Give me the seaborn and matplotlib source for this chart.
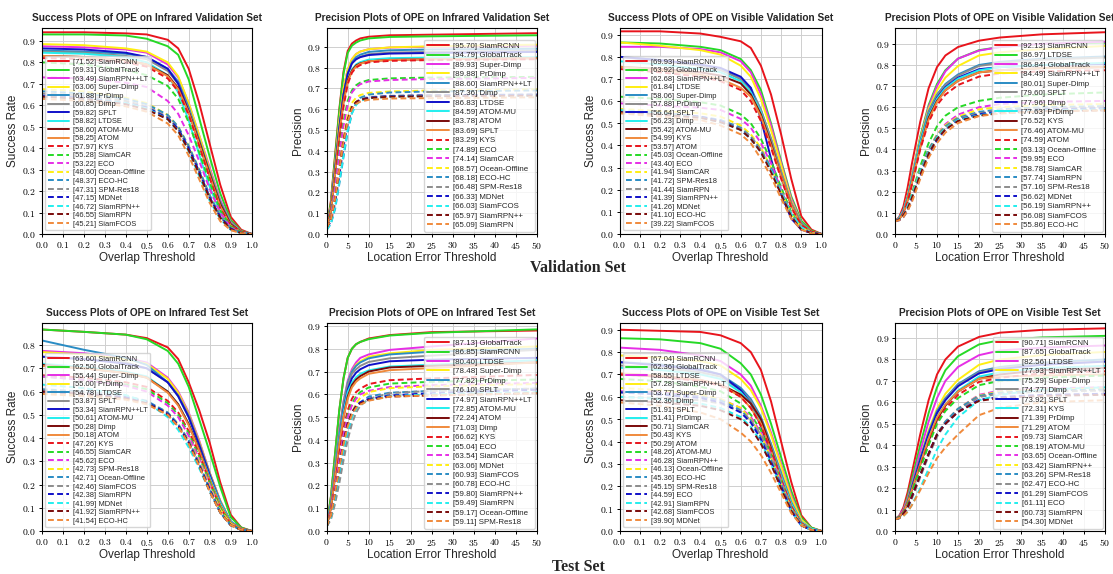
import matplotlib
matplotlib.use('Agg')
import matplotlib.pyplot as plt
from matplotlib.ticker import FuncFormatter, MultipleLocator
import seaborn as sns

sns.set_style('whitegrid', {'axes.edgecolor': 'black', 'grid.color': '#cfcfcf',
                            'xtick.bottom': True, 'ytick.left': True})
plt.rcParams['font.family'] = ['Liberation Sans', 'DejaVu Sans']
plt.rcParams['mathtext.fontset'] = 'cm'
plt.rcParams['axes.linewidth'] = 0.8
plt.rcParams['grid.linewidth'] = 0.7

COLORS = ['#e8141c', '#26d926', '#e62ee6', '#ffee11', '#2a8cc4',
          '#8c8c8c', '#1010c8', '#22eeee', '#7a0a0a', '#f08a3c']
LW = 1.4

SUCC_X = [0.0, 0.2, 0.4, 0.5, 0.6, 0.65, 0.7, 0.75, 0.8, 0.85, 0.9, 0.95, 1.0]
PREC_X_IR = [0, 1, 2, 3, 4, 5, 6, 7, 8, 10, 15, 25, 50]
PREC_X_VIS = [0, 1, 2, 3, 4, 6, 8, 10, 12, 15, 20, 25, 35, 50]

# ---- Infrared validation, success
IR_VAL_SUCC_NAMES = ['SiamRCNN', 'GlobalTrack', 'SiamRPN++LT', 'Super-Dimp', 'PrDimp', 'Dimp', 'SPLT',
                     'LTDSE', 'ATOM-MU', 'ATOM', 'KYS', 'SiamCAR', 'ECO', 'Ocean-Offline', 'ECO-HC',
                     'SPM-Res18', 'MDNet', 'SiamRPN++', 'SiamRPN', 'SiamFCOS']
IR_VAL_SUCC_SCORES = [71.52, 69.31, 63.49, 63.06, 61.88, 60.85, 59.82, 58.82, 58.60, 58.25,
                      57.97, 55.28, 53.22, 48.60, 48.37, 47.31, 47.15, 46.72, 46.55, 45.21]
IR_VAL_SUCC_CURVES = [
    [.94, .94, .935, .93, .905, .865, .77, .61, .42, .23, .08, .02, 0],
    [.93, .93, .925, .91, .875, .835, .72, .54, .36, .19, .065, .015, 0],
    [.875, .87, .86, .845, .79, .73, .61, .46, .31, .16, .055, .012, 0],
    [.885, .88, .865, .85, .80, .735, .61, .46, .30, .15, .05, .01, 0],
    [.855, .85, .84, .825, .77, .71, .59, .44, .29, .15, .05, .01, 0],
    [.85, .845, .83, .815, .76, .70, .58, .43, .28, .14, .045, .01, 0],
    [.865, .86, .845, .825, .77, .70, .57, .42, .27, .13, .04, .01, 0],
    [.845, .84, .825, .80, .74, .66, .53, .37, .22, .10, .03, .005, 0],
    [.83, .825, .81, .79, .74, .68, .57, .43, .28, .14, .045, .01, 0],
    [.83, .825, .81, .79, .735, .675, .565, .42, .27, .13, .04, .01, 0],
    [.82, .815, .80, .78, .725, .665, .555, .41, .26, .12, .04, .01, 0],
    [.80, .79, .765, .74, .69, .63, .52, .38, .24, .11, .035, .008, 0],
    [.73, .725, .705, .685, .62, .56, .46, .34, .21, .10, .03, .005, 0],
    [.675, .665, .635, .61, .555, .50, .41, .30, .18, .085, .025, .005, 0],
    [.665, .655, .63, .605, .555, .50, .41, .30, .18, .085, .025, .005, 0],
    [.655, .645, .62, .595, .545, .49, .40, .29, .17, .08, .025, .005, 0],
    [.645, .635, .61, .59, .54, .49, .40, .29, .17, .08, .025, .005, 0],
    [.64, .63, .61, .585, .535, .48, .385, .27, .155, .07, .02, .004, 0],
    [.64, .63, .605, .58, .535, .48, .39, .28, .165, .075, .022, .004, 0],
    [.63, .62, .595, .57, .515, .46, .365, .255, .145, .06, .018, .003, 0],
]

# ---- Infrared validation, precision
IR_VAL_PREC_NAMES = ['SiamRCNN', 'GlobalTrack', 'Super-Dimp', 'PrDimp', 'SiamRPN++LT', 'Dimp', 'LTDSE',
                     'ATOM-MU', 'ATOM', 'SPLT', 'KYS', 'ECO', 'SiamCAR', 'Ocean-Offline', 'ECO-HC',
                     'SPM-Res18', 'MDNet', 'SiamFCOS', 'SiamRPN++', 'SiamRPN']
IR_VAL_PREC_SCORES = [95.70, 94.79, 89.93, 89.88, 88.60, 87.36, 86.83, 84.59, 83.78, 83.69,
                      83.29, 74.89, 74.14, 68.57, 68.18, 66.48, 66.33, 66.03, 65.97, 65.09]
IR_VAL_PREC_CURVES = [
    [.03, .16, .38, .60, .78, .88, .915, .93, .94, .948, .955, .958, .965],
    [.03, .15, .37, .59, .77, .87, .905, .92, .93, .94, .947, .95, .955],
    [.03, .13, .33, .54, .70, .79, .84, .865, .877, .888, .896, .90, .905],
    [.03, .13, .33, .54, .70, .79, .84, .865, .877, .888, .897, .902, .91],
    [.03, .12, .31, .51, .67, .77, .825, .85, .862, .875, .883, .887, .89],
    [.03, .12, .31, .51, .67, .77, .82, .84, .852, .864, .872, .875, .88],
    [.03, .12, .31, .51, .67, .77, .82, .84, .85, .86, .867, .87, .875],
    [.03, .11, .29, .48, .64, .74, .79, .815, .826, .838, .845, .848, .85],
    [.03, .11, .29, .48, .64, .74, .785, .81, .82, .83, .837, .84, .845],
    [.03, .11, .29, .48, .63, .73, .78, .805, .818, .83, .836, .84, .845],
    [.03, .10, .27, .45, .61, .72, .775, .80, .812, .825, .832, .836, .84],
    [.03, .09, .24, .40, .54, .64, .69, .715, .728, .74, .748, .752, .755],
    [.03, .08, .22, .38, .52, .62, .68, .705, .72, .733, .74, .745, .75],
    [.03, .07, .18, .32, .46, .57, .63, .655, .668, .678, .685, .69, .695],
    [.02, .05, .12, .24, .37, .49, .58, .63, .655, .67, .68, .685, .69],
    [.03, .07, .17, .31, .45, .55, .61, .635, .648, .658, .664, .667, .67],
    [.03, .06, .15, .28, .42, .53, .60, .63, .645, .655, .663, .666, .67],
    [.02, .05, .13, .25, .38, .50, .58, .62, .64, .652, .66, .663, .665],
    [.03, .07, .17, .31, .45, .55, .61, .635, .645, .653, .66, .662, .665],
    [.03, .07, .17, .31, .44, .54, .60, .625, .636, .645, .651, .653, .657],
]

# ---- Visible validation, success
VIS_VAL_SUCC_NAMES = ['SiamRCNN', 'GlobalTrack', 'SiamRPN++LT', 'LTDSE', 'Super-Dimp', 'PrDimp', 'SPLT',
                      'Dimp', 'ATOM-MU', 'KYS', 'ATOM', 'Ocean-Offline', 'ECO', 'SiamCAR', 'SPM-Res18',
                      'SiamRPN', 'SiamRPN++', 'MDNet', 'ECO-HC', 'SiamFCOS']
VIS_VAL_SUCC_SCORES = [69.93, 63.92, 62.68, 61.84, 58.06, 57.88, 56.64, 56.23, 55.42, 54.99,
                       53.57, 45.03, 43.40, 41.94, 41.72, 41.44, 41.39, 41.26, 41.10, 39.22]
VIS_VAL_SUCC_CURVES = [
    [.915, .915, .905, .89, .87, .84, .76, .63, .45, .25, .08, .02, 0],
    [.865, .86, .845, .83, .79, .74, .65, .50, .33, .17, .06, .015, 0],
    [.845, .845, .835, .82, .78, .73, .63, .49, .32, .16, .05, .01, 0],
    [.865, .85, .83, .81, .76, .71, .61, .47, .31, .15, .05, .01, 0],
    [.80, .785, .76, .745, .70, .66, .56, .43, .28, .14, .05, .01, 0],
    [.80, .78, .76, .74, .70, .65, .56, .43, .28, .14, .045, .01, 0],
    [.80, .785, .765, .75, .71, .66, .52, .34, .18, .07, .02, .005, 0],
    [.78, .765, .745, .73, .69, .64, .55, .41, .26, .13, .04, .01, 0],
    [.755, .745, .73, .715, .68, .63, .54, .41, .26, .13, .04, .01, 0],
    [.755, .74, .72, .70, .66, .62, .53, .40, .26, .13, .04, .01, 0],
    [.745, .73, .71, .69, .65, .60, .51, .39, .25, .12, .04, .01, 0],
    [.62, .61, .595, .58, .54, .50, .43, .33, .21, .10, .03, .005, 0],
    [.59, .58, .57, .56, .52, .48, .41, .32, .20, .09, .03, .005, 0],
    [.565, .555, .545, .53, .49, .45, .39, .30, .19, .09, .03, .005, 0],
    [.555, .545, .53, .515, .48, .44, .38, .30, .19, .09, .03, .005, 0],
    [.55, .54, .525, .51, .475, .44, .38, .29, .19, .09, .03, .005, 0],
    [.555, .545, .53, .51, .47, .43, .37, .29, .18, .08, .02, .005, 0],
    [.56, .545, .525, .505, .47, .43, .37, .29, .19, .09, .03, .005, 0],
    [.55, .54, .525, .505, .47, .43, .37, .28, .18, .08, .02, .005, 0],
    [.545, .53, .515, .49, .45, .41, .34, .26, .16, .07, .02, .003, 0],
]

# ---- Visible validation, precision
VIS_VAL_PREC_NAMES = ['SiamRCNN', 'LTDSE', 'GlobalTrack', 'SiamRPN++LT', 'Super-Dimp', 'SPLT', 'Dimp',
                      'PrDimp', 'KYS', 'ATOM-MU', 'ATOM', 'Ocean-Offline', 'ECO', 'SiamCAR', 'SiamRPN',
                      'SPM-Res18', 'MDNet', 'SiamRPN++', 'SiamFCOS', 'ECO-HC']
VIS_VAL_PREC_SCORES = [92.13, 86.97, 86.84, 84.49, 80.01, 79.60, 77.96, 77.63, 76.52, 76.46,
                       74.59, 63.13, 59.95, 58.78, 57.74, 57.16, 56.62, 56.19, 56.08, 55.86]
VIS_VAL_PREC_CURVES = [
    [.06, .08, .13, .22, .33, .53, .69, .79, .845, .885, .915, .93, .945, .955],
    [.06, .075, .11, .18, .27, .46, .61, .71, .775, .83, .87, .885, .90, .905],
    [.06, .075, .11, .18, .27, .45, .60, .70, .77, .83, .868, .885, .90, .91],
    [.06, .075, .11, .18, .27, .45, .59, .68, .74, .795, .845, .86, .875, .89],
    [.06, .075, .11, .17, .26, .44, .58, .66, .71, .755, .80, .815, .83, .84],
    [.06, .075, .11, .17, .26, .43, .57, .655, .705, .75, .795, .81, .825, .835],
    [.06, .075, .11, .17, .25, .43, .56, .645, .695, .74, .78, .79, .80, .805],
    [.06, .075, .11, .17, .25, .43, .56, .64, .69, .735, .775, .79, .80, .81],
    [.06, .07, .10, .16, .24, .41, .55, .63, .68, .725, .765, .775, .785, .79],
    [.06, .07, .10, .16, .24, .41, .54, .625, .68, .725, .765, .775, .785, .79],
    [.06, .07, .10, .15, .23, .40, .53, .61, .66, .705, .745, .76, .77, .775],
    [.06, .07, .09, .13, .19, .32, .43, .51, .56, .60, .63, .645, .66, .67],
    [.06, .07, .09, .13, .18, .30, .40, .47, .52, .565, .60, .615, .625, .63],
    [.06, .07, .09, .13, .18, .30, .40, .47, .515, .555, .59, .60, .61, .615],
    [.06, .07, .09, .13, .18, .30, .40, .465, .51, .55, .578, .59, .60, .605],
    [.06, .07, .09, .13, .18, .29, .39, .46, .505, .545, .572, .585, .595, .60],
    [.06, .065, .08, .11, .16, .27, .37, .445, .495, .54, .567, .58, .59, .595],
    [.06, .07, .09, .13, .18, .29, .385, .455, .50, .54, .562, .575, .585, .59],
    [.06, .07, .09, .12, .17, .28, .38, .45, .495, .535, .56, .572, .582, .585],
    [.06, .065, .08, .11, .15, .26, .36, .43, .48, .525, .558, .57, .58, .585],
]

# ---- Infrared test, success
IR_TEST_SUCC_NAMES = ['SiamRCNN', 'GlobalTrack', 'Super-Dimp', 'PrDimp', 'LTDSE', 'SPLT', 'SiamRPN++LT',
                      'ATOM-MU', 'Dimp', 'ATOM', 'KYS', 'SiamCAR', 'ECO', 'SPM-Res18', 'Ocean-Offline',
                      'SiamFCOS', 'SiamRPN', 'MDNet', 'SiamRPN++', 'ECO-HC']
IR_TEST_SUCC_SCORES = [63.60, 62.50, 55.44, 55.00, 54.78, 53.87, 53.34, 50.61, 50.28, 50.18,
                       47.26, 46.55, 45.62, 42.73, 42.71, 42.46, 42.38, 41.99, 41.92, 41.54]
IR_TEST_SUCC_CURVES = [
    [.867, .857, .845, .83, .79, .74, .64, .52, .38, .21, .07, .015, 0],
    [.867, .857, .845, .825, .775, .72, .62, .48, .34, .19, .06, .015, 0],
    [.775, .765, .745, .725, .66, .60, .51, .39, .25, .13, .04, .01, 0],
    [.77, .76, .74, .72, .655, .595, .505, .385, .25, .13, .04, .01, 0],
    [.82, .78, .745, .715, .64, .58, .49, .37, .24, .12, .04, .01, 0],
    [.75, .74, .725, .70, .64, .585, .50, .38, .25, .13, .04, .01, 0],
    [.75, .74, .72, .70, .64, .58, .49, .37, .24, .12, .04, .01, 0],
    [.72, .705, .685, .665, .60, .545, .46, .35, .23, .12, .04, .01, 0],
    [.715, .70, .68, .66, .60, .545, .46, .35, .22, .11, .035, .01, 0],
    [.71, .70, .68, .66, .595, .54, .455, .345, .22, .11, .035, .01, 0],
    [.67, .66, .64, .62, .56, .51, .43, .33, .21, .10, .03, .005, 0],
    [.665, .65, .63, .61, .55, .50, .42, .32, .21, .10, .03, .005, 0],
    [.665, .65, .625, .60, .54, .49, .41, .31, .20, .09, .03, .005, 0],
    [.59, .585, .57, .555, .51, .46, .39, .30, .19, .09, .03, .005, 0],
    [.61, .60, .58, .56, .51, .46, .39, .29, .18, .08, .025, .005, 0],
    [.605, .595, .575, .555, .505, .455, .385, .29, .18, .08, .025, .005, 0],
    [.60, .59, .575, .555, .505, .455, .38, .285, .18, .08, .025, .005, 0],
    [.63, .615, .585, .555, .49, .435, .36, .27, .17, .08, .025, .005, 0],
    [.60, .59, .57, .55, .50, .45, .38, .28, .17, .08, .025, .005, 0],
    [.59, .58, .565, .545, .50, .45, .375, .28, .17, .08, .025, .005, 0],
]

# ---- Infrared test, precision
IR_TEST_PREC_NAMES = ['GlobalTrack', 'SiamRCNN', 'LTDSE', 'Super-Dimp', 'PrDimp', 'SPLT', 'SiamRPN++LT',
                      'ATOM-MU', 'ATOM', 'Dimp', 'KYS', 'ECO', 'SiamCAR', 'MDNet', 'SiamFCOS', 'ECO-HC',
                      'SiamRPN++', 'SiamRPN', 'Ocean-Offline', 'SPM-Res18']
IR_TEST_PREC_SCORES = [87.13, 86.85, 80.40, 78.48, 77.82, 76.10, 74.97, 72.85, 72.24, 71.03,
                       66.62, 65.04, 63.54, 63.06, 60.93, 60.78, 59.80, 59.49, 59.17, 59.11]
IR_TEST_PREC_CURVES = [
    [.02, .15, .34, .53, .67, .76, .80, .82, .83, .845, .86, .873, .88],
    [.02, .15, .34, .53, .67, .76, .80, .82, .83, .842, .858, .87, .885],
    [.02, .12, .28, .44, .57, .66, .71, .74, .76, .775, .795, .81, .845],
    [.02, .12, .27, .43, .56, .65, .70, .73, .745, .765, .78, .795, .81],
    [.02, .12, .27, .43, .56, .65, .70, .725, .74, .758, .775, .787, .80],
    [.02, .11, .26, .42, .55, .64, .69, .71, .725, .742, .758, .77, .795],
    [.02, .11, .25, .40, .53, .62, .67, .695, .71, .728, .745, .752, .76],
    [.02, .11, .25, .40, .52, .61, .65, .675, .69, .705, .722, .73, .75],
    [.02, .10, .24, .38, .50, .59, .64, .665, .68, .70, .718, .725, .74],
    [.02, .10, .24, .38, .50, .58, .63, .655, .67, .69, .706, .715, .74],
    [.02, .09, .21, .34, .45, .53, .58, .61, .625, .645, .662, .67, .685],
    [.02, .08, .19, .31, .42, .51, .56, .59, .61, .63, .647, .655, .665],
    [.02, .08, .19, .31, .42, .50, .55, .58, .60, .615, .632, .64, .65],
    [.02, .07, .16, .27, .38, .46, .52, .56, .585, .61, .627, .635, .645],
    [.02, .06, .14, .24, .34, .43, .50, .54, .565, .59, .607, .615, .625],
    [.02, .05, .12, .21, .31, .40, .47, .52, .55, .58, .605, .615, .625],
    [.02, .07, .17, .28, .39, .47, .52, .55, .565, .58, .595, .605, .62],
    [.02, .06, .15, .26, .36, .44, .50, .535, .555, .575, .592, .60, .61],
    [.02, .07, .17, .28, .39, .47, .52, .545, .56, .575, .59, .595, .605],
    [.02, .07, .17, .28, .38, .46, .51, .54, .555, .572, .59, .595, .605],
]

# ---- Visible test, success
VIS_TEST_SUCC_NAMES = ['SiamRCNN', 'GlobalTrack', 'LTDSE', 'SiamRPN++LT', 'Super-Dimp', 'Dimp', 'SPLT',
                       'PrDimp', 'SiamCAR', 'KYS', 'ATOM', 'ATOM-MU', 'SiamRPN++', 'Ocean-Offline',
                       'ECO-HC', 'SPM-Res18', 'ECO', 'SiamRPN', 'SiamFCOS', 'MDNet']
VIS_TEST_SUCC_SCORES = [67.04, 62.36, 58.55, 57.28, 53.77, 52.36, 51.91, 51.41, 50.71, 50.43,
                        50.29, 48.26, 46.28, 46.13, 45.36, 45.15, 44.59, 42.91, 42.68, 39.90]
VIS_TEST_SUCC_CURVES = [
    [.90, .895, .89, .875, .84, .80, .72, .58, .40, .22, .07, .015, 0],
    [.862, .857, .84, .815, .75, .70, .61, .48, .33, .18, .06, .015, 0],
    [.82, .81, .785, .76, .70, .65, .56, .44, .30, .16, .05, .01, 0],
    [.785, .775, .76, .74, .68, .63, .55, .43, .29, .15, .05, .01, 0],
    [.755, .745, .725, .70, .64, .59, .51, .39, .26, .13, .04, .01, 0],
    [.74, .73, .71, .69, .63, .58, .50, .38, .25, .12, .04, .01, 0],
    [.755, .74, .72, .70, .63, .57, .47, .34, .21, .09, .025, .005, 0],
    [.73, .72, .70, .68, .62, .57, .49, .37, .24, .12, .04, .01, 0],
    [.70, .69, .675, .655, .61, .57, .50, .37, .23, .11, .035, .005, 0],
    [.705, .695, .675, .655, .60, .55, .48, .36, .23, .11, .035, .005, 0],
    [.70, .69, .67, .65, .60, .55, .47, .36, .23, .11, .035, .005, 0],
    [.68, .67, .645, .625, .57, .52, .45, .34, .22, .10, .03, .005, 0],
    [.625, .62, .605, .59, .55, .51, .44, .34, .22, .10, .03, .005, 0],
    [.64, .63, .61, .59, .55, .50, .43, .33, .21, .10, .03, .005, 0],
    [.62, .615, .60, .585, .54, .495, .42, .32, .21, .10, .03, .005, 0],
    [.60, .595, .585, .57, .535, .495, .43, .33, .21, .10, .03, .005, 0],
    [.62, .61, .595, .575, .53, .485, .41, .31, .20, .09, .025, .005, 0],
    [.60, .59, .57, .55, .51, .465, .40, .30, .19, .09, .025, .005, 0],
    [.585, .575, .56, .54, .50, .46, .39, .30, .19, .09, .025, .005, 0],
    [.575, .56, .53, .50, .44, .40, .34, .26, .17, .08, .025, .005, 0],
]

# ---- Visible test, precision
VIS_TEST_PREC_NAMES = ['SiamRCNN', 'GlobalTrack', 'LTDSE', 'SiamRPN++LT', 'Super-Dimp', 'Dimp', 'SPLT',
                       'KYS', 'PrDimp', 'ATOM', 'SiamCAR', 'ATOM-MU', 'Ocean-Offline', 'SiamRPN++',
                       'SPM-Res18', 'ECO-HC', 'SiamFCOS', 'ECO', 'SiamRPN', 'MDNet']
VIS_TEST_PREC_SCORES = [90.71, 87.65, 82.56, 77.93, 75.29, 74.77, 73.92, 72.31, 71.39, 71.29,
                        69.73, 68.19, 63.65, 63.42, 63.26, 62.47, 61.29, 61.11, 60.73, 54.30]
VIS_TEST_PREC_CURVES = [
    [.055, .07, .11, .18, .27, .45, .61, .73, .80, .86, .905, .925, .938, .945],
    [.055, .07, .10, .16, .24, .40, .55, .67, .75, .815, .87, .89, .903, .91],
    [.055, .07, .10, .15, .22, .37, .51, .62, .70, .765, .82, .842, .855, .865],
    [.055, .065, .09, .14, .21, .34, .47, .57, .64, .705, .775, .80, .82, .835],
    [.055, .065, .09, .14, .21, .34, .46, .56, .62, .685, .745, .765, .785, .80],
    [.055, .065, .09, .14, .20, .33, .45, .55, .615, .68, .74, .76, .78, .79],
    [.055, .065, .09, .13, .20, .33, .45, .55, .61, .675, .735, .755, .775, .79],
    [.055, .065, .09, .13, .19, .31, .43, .53, .59, .655, .72, .74, .76, .77],
    [.055, .065, .09, .13, .19, .31, .42, .52, .585, .65, .71, .73, .75, .76],
    [.055, .065, .09, .13, .19, .31, .43, .53, .59, .65, .71, .72, .725, .73],
    [.055, .065, .085, .12, .18, .30, .41, .51, .57, .635, .695, .715, .735, .745],
    [.055, .065, .085, .12, .18, .29, .40, .50, .56, .62, .68, .70, .715, .725],
    [.055, .06, .08, .11, .16, .26, .36, .45, .51, .57, .635, .655, .665, .67],
    [.055, .06, .08, .11, .16, .26, .36, .45, .51, .57, .632, .65, .66, .665],
    [.055, .06, .08, .11, .16, .26, .36, .45, .51, .57, .63, .645, .655, .66],
    [.055, .06, .075, .10, .15, .25, .35, .44, .50, .56, .625, .64, .65, .655],
    [.055, .06, .08, .11, .16, .26, .36, .45, .50, .555, .612, .625, .635, .64],
    [.055, .06, .07, .09, .12, .20, .29, .38, .45, .53, .61, .635, .66, .67],
    [.055, .06, .08, .11, .16, .26, .36, .45, .50, .555, .607, .62, .63, .635],
    [.055, .06, .07, .09, .12, .19, .27, .34, .39, .45, .54, .575, .60, .61],
]


def draw_panel(ax, x, names, scores, curves, title, kind, ytop):
    for i, (name, score, y) in enumerate(zip(names, scores, curves)):
        style = '-' if i < 10 else (0, (3.0, 1.7))
        sns.lineplot(x=x, y=y, ax=ax, color=COLORS[i % 10], linestyle=style,
                     linewidth=LW, estimator=None,
                     label='[{:.2f}] {}'.format(score, name))

    if kind == 'success':
        ax.set_xlim(0, 1)
        ax.xaxis.set_major_locator(MultipleLocator(0.1))
        ax.xaxis.set_major_formatter(FuncFormatter(lambda v, p: r'$%.1f$' % v))
        ax.set_xlabel('Overlap Threshold', fontsize=8.5, labelpad=1)
        ax.set_ylabel('Success Rate', fontsize=8.5, labelpad=2)
        leg_kw = dict(loc='lower left', fontsize=5.4, borderaxespad=0.5, labelspacing=0.17)
    else:
        ax.set_xlim(0, 50)
        ax.xaxis.set_major_locator(MultipleLocator(5))
        ax.xaxis.set_major_formatter(FuncFormatter(lambda v, p: r'$%d$' % round(v)))
        ax.set_xlabel('Location Error Threshold', fontsize=8.5, labelpad=1)
        ax.set_ylabel('Precision', fontsize=8.5, labelpad=2)
        leg_kw = dict(loc='lower right', fontsize=5.7, borderaxespad=0.25, labelspacing=0.24)

    ax.set_ylim(0, ytop)
    ax.yaxis.set_major_locator(MultipleLocator(0.1))
    ax.yaxis.set_major_formatter(FuncFormatter(lambda v, p: r'$%.1f$' % v))
    ax.tick_params(labelsize=7, length=2.5, width=0.7, pad=1.5, colors='black')
    ax.set_title(title, fontsize=7.3, fontweight='bold', pad=5)
    ax.legend(handlelength=2.8, handletextpad=0.5, borderpad=0.35,
              framealpha=0.8, edgecolor='0.8', **leg_kw)


W, H = 1113, 574
fig = plt.figure(figsize=(W / 100, H / 100), dpi=100)

cols = [(41.7, 210), (326.7, 210), (619.5, 202), (895, 210)]
rows = [(28, 234), (323, 531)]

panels = [
    (0, 0, SUCC_X, IR_VAL_SUCC_NAMES, IR_VAL_SUCC_SCORES, IR_VAL_SUCC_CURVES,
     'Success Plots of OPE on Infrared Validation Set', 'success', 0.96),
    (0, 1, PREC_X_IR, IR_VAL_PREC_NAMES, IR_VAL_PREC_SCORES, IR_VAL_PREC_CURVES,
     'Precision Plots of OPE on Infrared Validation Set', 'precision', 0.99),
    (0, 2, SUCC_X, VIS_VAL_SUCC_NAMES, VIS_VAL_SUCC_SCORES, VIS_VAL_SUCC_CURVES,
     'Success Plots of OPE on Visible Validation Set', 'success', 0.93),
    (0, 3, PREC_X_VIS, VIS_VAL_PREC_NAMES, VIS_VAL_PREC_SCORES, VIS_VAL_PREC_CURVES,
     'Precision Plots of OPE on Visible Validation Set', 'precision', 0.975),
    (1, 0, SUCC_X, IR_TEST_SUCC_NAMES, IR_TEST_SUCC_SCORES, IR_TEST_SUCC_CURVES,
     'Success Plots of OPE on Infrared Test Set', 'success', 0.895),
    (1, 1, PREC_X_IR, IR_TEST_PREC_NAMES, IR_TEST_PREC_SCORES, IR_TEST_PREC_CURVES,
     'Precision Plots of OPE on Infrared Test Set', 'precision', 0.913),
    (1, 2, SUCC_X, VIS_TEST_SUCC_NAMES, VIS_TEST_SUCC_SCORES, VIS_TEST_SUCC_CURVES,
     'Success Plots of OPE on Visible Test Set', 'success', 0.93),
    (1, 3, PREC_X_VIS, VIS_TEST_PREC_NAMES, VIS_TEST_PREC_SCORES, VIS_TEST_PREC_CURVES,
     'Precision Plots of OPE on Visible Test Set', 'precision', 0.97),
]

for r, c, x, names, scores, curves, title, kind, ytop in panels:
    left, width = cols[c]
    top, bottom = rows[r]
    ax = fig.add_axes([left / W, 1 - bottom / H, width / W, (bottom - top) / H])
    draw_panel(ax, x, names, scores, curves, title, kind, ytop)

fig.text(578 / W, 1 - 268 / H, 'Validation Set', ha='center', va='center',
         family=['Liberation Serif', 'DejaVu Serif'], fontweight='bold', fontsize=11.5)
fig.text(578 / W, 1 - 567 / H, 'Test Set', ha='center', va='center',
         family=['Liberation Serif', 'DejaVu Serif'], fontweight='bold', fontsize=11.5)

fig.savefig('out.png', dpi=100)
